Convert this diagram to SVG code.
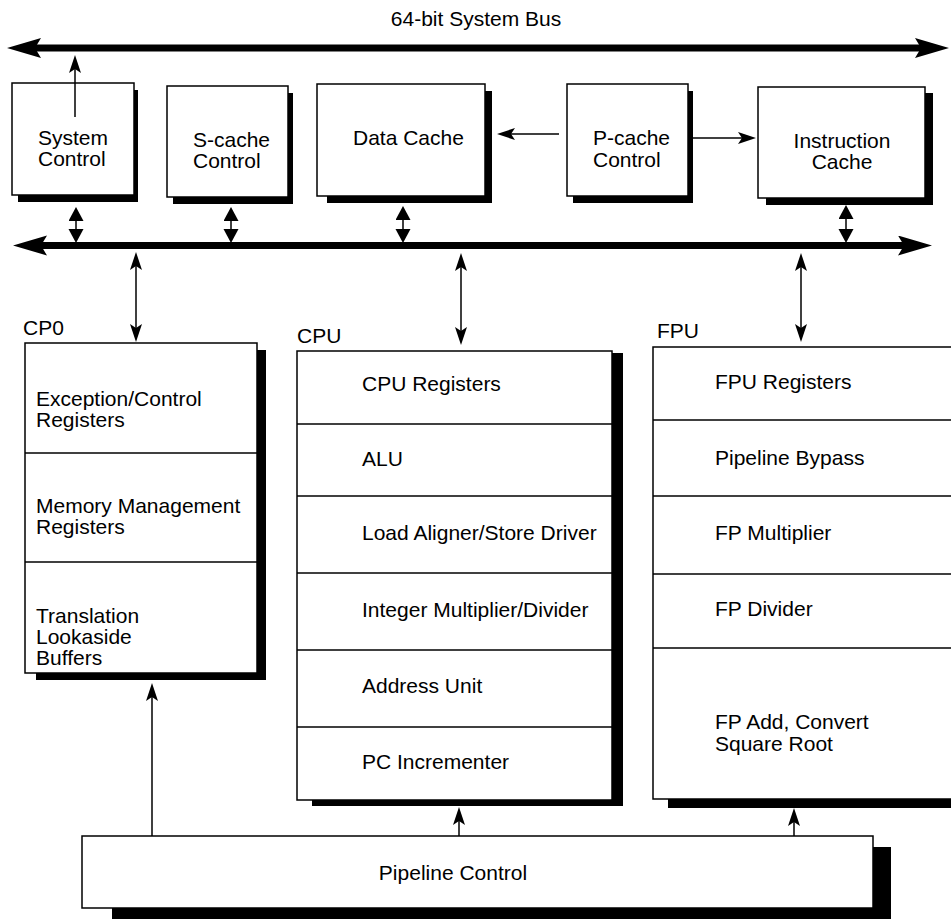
<svg xmlns="http://www.w3.org/2000/svg" width="951" height="919" viewBox="0 0 951 919">
<style>
text{font-family:"Liberation Sans",Arial,sans-serif;font-size:21px;fill:#000}
.box{fill:#fff;stroke:#000;stroke-width:1.5}
.sh{fill:#000}
.div{stroke:#000;stroke-width:1.5}
.ln{stroke:#000;stroke-width:1.5;fill:none}
.bus{stroke:#000;stroke-width:7;fill:none}
.mid{text-anchor:middle}
</style>
<defs>
<marker id="a" markerUnits="userSpaceOnUse" markerWidth="20" markerHeight="14" refX="15" refY="6" orient="auto-start-reverse"><path d="M0,0 L18,6 L0,12 L4,6 Z" fill="#000"/></marker>
<marker id="b" markerUnits="userSpaceOnUse" markerWidth="16" markerHeight="16" refX="12" refY="7.5" orient="auto-start-reverse"><path d="M0,0 L14,7.5 L0,15 Z" fill="#000"/></marker>
<marker id="bh" markerUnits="userSpaceOnUse" markerWidth="36" markerHeight="22" refX="6" refY="10" orient="auto-start-reverse"><path d="M0,0 L34,10 L0,20 L6,10 Z" fill="#000"/></marker>
</defs>
<rect width="951" height="919" fill="#fff"/>
<text class="mid" x="476" y="26">64-bit System Bus</text>
<g id="sysctl"><rect class="sh" x="18" y="90" width="120" height="112"/><rect class="box" x="12" y="83" width="122" height="112"/><text x="38" y="145">System<tspan x="38" dy="21">Control</tspan></text></g>
<g id="scache"><rect class="sh" x="173" y="93" width="120" height="111"/><rect class="box" x="167" y="86" width="121" height="111"/><text x="193" y="147">S-cache<tspan x="193" dy="21">Control</tspan></text></g>
<g id="dcache"><rect class="sh" x="327" y="91" width="165" height="112"/><rect class="box" x="317" y="84" width="168" height="112"/><text x="353" y="145">Data Cache</text></g>
<g id="pcache"><rect class="sh" x="573" y="91" width="120" height="112"/><rect class="box" x="567" y="84" width="121" height="112"/><text x="593" y="145">P-cache<tspan x="593" dy="22">Control</tspan></text></g>
<g id="icache"><rect class="sh" x="766" y="93" width="167" height="112"/><rect class="box" x="758" y="87" width="167" height="111"/><text class="mid" x="842" y="148">Instruction<tspan x="842" dy="21">Cache</tspan></text></g>
<g id="cp0"><text x="23" y="335">CP0</text><rect class="sh" x="36" y="350" width="230" height="330"/><rect class="box" x="25" y="343" width="232" height="330"/><line class="div" x1="25" y1="453" x2="257" y2="453"/><line class="div" x1="25" y1="562" x2="257" y2="562"/><text x="36" y="406">Exception/Control<tspan x="36" dy="21">Registers</tspan></text><text x="36" y="513">Memory Management<tspan x="36" dy="21">Registers</tspan></text><text x="36" y="623">Translation<tspan x="36" dy="21">Lookaside</tspan><tspan x="36" dy="21">Buffers</tspan></text></g>
<g id="cpu"><text x="297" y="343">CPU</text><rect class="sh" x="312" y="353" width="311" height="453"/><rect class="box" x="297" y="351" width="315" height="449"/><line class="div" x1="297" y1="424" x2="612" y2="424"/><line class="div" x1="297" y1="496" x2="612" y2="496"/><line class="div" x1="297" y1="573" x2="612" y2="573"/><line class="div" x1="297" y1="650" x2="612" y2="650"/><line class="div" x1="297" y1="727" x2="612" y2="727"/><text x="362" y="391">CPU Registers</text><text x="362" y="466">ALU</text><text x="362" y="540">Load Aligner/Store Driver</text><text x="362" y="617">Integer Multiplier/Divider</text><text x="362" y="693">Address Unit</text><text x="362" y="769">PC Incrementer</text></g>
<g id="fpu"><text x="657" y="338">FPU</text><rect class="sh" x="668" y="355" width="320" height="453"/><rect class="box" x="653" y="347" width="320" height="452"/><line class="div" x1="653" y1="420" x2="973" y2="420"/><line class="div" x1="653" y1="496" x2="973" y2="496"/><line class="div" x1="653" y1="574" x2="973" y2="574"/><line class="div" x1="653" y1="648" x2="973" y2="648"/><text x="715" y="389">FPU Registers</text><text x="715" y="465">Pipeline Bypass</text><text x="715" y="540">FP Multiplier</text><text x="715" y="616">FP Divider</text><text x="715" y="729">FP Add, Convert<tspan x="715" dy="22">Square Root</tspan></text></g>
<g id="pipe"><rect class="sh" x="112" y="847" width="779" height="80"/><rect class="box" x="82" y="836" width="791" height="72"/><text class="mid" x="453" y="880">Pipeline Control</text></g>
<g id="connectors">
<line class="bus" x1="35" y1="48" x2="921" y2="48" marker-start="url(#bh)" marker-end="url(#bh)"/>
<line class="bus" x1="41" y1="245.5" x2="904" y2="245.5" marker-start="url(#bh)" marker-end="url(#bh)"/>
<line class="ln" x1="75" y1="117" x2="75" y2="58" marker-end="url(#a)"/>
<line class="ln" x1="559" y1="134" x2="500" y2="134" marker-end="url(#a)"/>
<line class="ln" x1="689" y1="138" x2="753" y2="138" marker-end="url(#a)"/>
<line class="ln" x1="76" y1="209" x2="76" y2="241" marker-start="url(#b)" marker-end="url(#b)"/>
<line class="ln" x1="231" y1="209" x2="231" y2="241" marker-start="url(#b)" marker-end="url(#b)"/>
<line class="ln" x1="403" y1="208" x2="403" y2="241" marker-start="url(#b)" marker-end="url(#b)"/>
<line class="ln" x1="846" y1="207" x2="846" y2="241" marker-start="url(#b)" marker-end="url(#b)"/>
<line class="ln" x1="136" y1="255" x2="136" y2="339" marker-start="url(#a)" marker-end="url(#a)"/>
<line class="ln" x1="461" y1="256" x2="461" y2="342" marker-start="url(#a)" marker-end="url(#a)"/>
<line class="ln" x1="801" y1="256" x2="801" y2="339" marker-start="url(#a)" marker-end="url(#a)"/>
<line class="ln" x1="152" y1="836" x2="152" y2="686" marker-end="url(#a)"/>
<line class="ln" x1="459" y1="836" x2="459" y2="810" marker-end="url(#a)"/>
<line class="ln" x1="794" y1="836" x2="794" y2="811" marker-end="url(#a)"/>
</g>
</svg>
